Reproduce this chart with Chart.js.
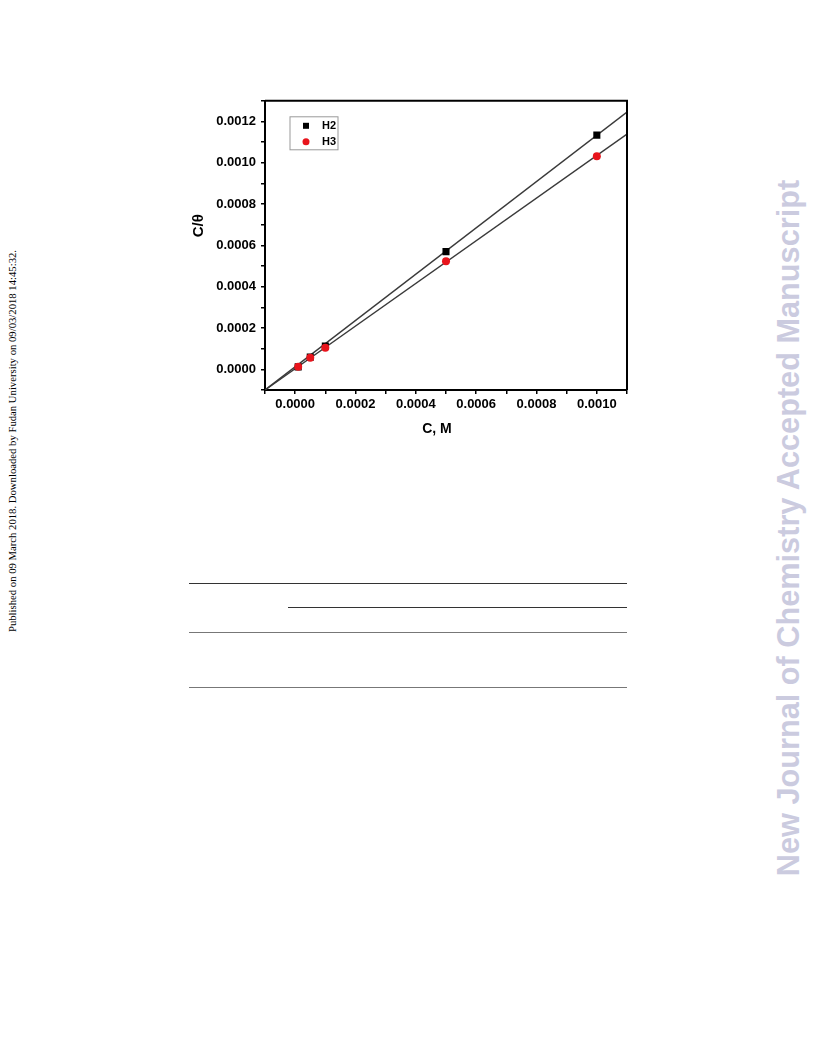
<!DOCTYPE html>
<html>
<head>
<meta charset="utf-8">
<script src="https://cdn.jsdelivr.net/npm/chart.js@4.4.1/dist/chart.umd.min.js"></script>
<style>
  body { margin: 0; background: #fff; width: 816px; height: 1056px; position: relative; overflow: hidden; }
  #wrap { position: absolute; left: 180px; top: 88px; width: 460px; height: 360px; }
  .vtext { position: absolute; white-space: nowrap; transform: translate(-50%, -50%) rotate(-90deg); }
  #pub { left: 12px; top: 441px; font-family: "Liberation Serif", serif; font-size: 10.7px; color: #000; }
  #mark { left: 789px; top: 528px; font-family: "Liberation Sans", Arial, sans-serif; font-weight: bold; font-size: 30.7px; color: #cbcbdf; }
  .rule { position: absolute; height: 0; }
</style>
</head>
<body>
<div id="pub" class="vtext">Published on 09 March 2018. Downloaded by Fudan University on 09/03/2018 14:45:32.</div>
<div id="mark" class="vtext">New Journal of Chemistry Accepted Manuscript</div>

<div class="rule" style="left:189px;top:583px;width:438px;border-top:1.3px solid #333;"></div>
<div class="rule" style="left:288px;top:607px;width:339px;border-top:1.3px solid #333;"></div>
<div class="rule" style="left:189px;top:632px;width:438px;border-top:1.3px solid #777;"></div>
<div class="rule" style="left:189px;top:687px;width:438px;border-top:1.3px solid #777;"></div>

<div id="wrap"><canvas id="grafico"></canvas></div>

<script>
// concentraciones (M)
const concentraciones = [0.00001, 0.00005, 0.0001, 0.0005, 0.001];
// C/theta
const valoresH2 = [0.000012, 0.000059, 0.000113, 0.000570, 0.001134];
const valoresH3 = [0.000012, 0.000056, 0.000105, 0.000523, 0.001032];
// rectas de ajuste (extremos del eje x)
const ajusteX = [-0.0001, 0.0011];
const ajusteH2 = [-0.0001, 0.001245];
const ajusteH3 = [-0.0001, 0.001139];
const ticksX = [0.0000, 0.0002, 0.0004, 0.0006, 0.0008, 0.0010];
const ticksY = [0.0000, 0.0002, 0.0004, 0.0006, 0.0008, 0.0010, 0.0012];
const tituloX = 'C, M';
const tituloY = 'C/θ';

const fuente = "'Liberation Sans', Arial, sans-serif";

const pares = (xs, ys) => xs.map((x, i) => ({ x: x, y: ys[i] }));

const etiqueta = (lista) => (v) => {
    const n = Math.round(v * 10000);
    const hit = lista.find(t => Math.round(t * 10000) === n);
    return hit !== undefined ? hit.toFixed(4) : '';
};

// marco superior/derecho, titulos de ejes y leyenda
const marcoLeyenda = {
    id: 'marcoLeyenda',
    afterDraw(chart) {
        const { ctx, chartArea } = chart;
        ctx.save();
        ctx.strokeStyle = '#000';
        ctx.lineWidth = 2;
        ctx.beginPath();
        ctx.moveTo(chartArea.left, chartArea.top);
        ctx.lineTo(chartArea.right, chartArea.top);
        ctx.lineTo(chartArea.right, chartArea.bottom);
        ctx.stroke();

        // titulos
        ctx.fillStyle = '#000';
        ctx.textAlign = 'center';
        ctx.textBaseline = 'middle';
        ctx.font = 'bold 14px ' + fuente;
        ctx.fillText(tituloX, chartArea.left + 172, chartArea.bottom + 39);
        ctx.save();
        ctx.translate(chartArea.left - 66, chartArea.top + 125);
        ctx.rotate(-Math.PI / 2);
        ctx.font = 'bold 15px ' + fuente;
        ctx.fillText(tituloY, 0, 0);
        ctx.restore();

        // leyenda
        const bx = chartArea.left + 25, by = chartArea.top + 16;
        ctx.lineWidth = 1;
        ctx.strokeStyle = '#999';
        ctx.strokeRect(bx, by, 48, 33);
        ctx.font = 'bold 11px ' + fuente;
        ctx.textAlign = 'left';
        ctx.fillStyle = '#000';
        ctx.fillRect(bx + 13, by + 6, 6, 6);
        ctx.fillText('H2', bx + 32, by + 9);
        ctx.fillStyle = '#e8141c';
        ctx.beginPath();
        ctx.arc(bx + 16, by + 25, 3.5, 0, Math.PI * 2);
        ctx.fill();
        ctx.fillStyle = '#000';
        ctx.fillText('H3', bx + 32, by + 25);
        ctx.restore();
    }
};

const grafico = document.getElementById('grafico').getContext('2d');

window.graficaIsoterma = new Chart(grafico, {
    type: 'scatter',
    data: {
        datasets: [
            {
                label: 'ajuste H2',
                data: pares(ajusteX, ajusteH2),
                showLine: true,
                borderColor: '#3a3a3a',
                borderWidth: 1.4,
                pointRadius: 0,
                order: 3
            },
            {
                label: 'ajuste H3',
                data: pares(ajusteX, ajusteH3),
                showLine: true,
                borderColor: '#3a3a3a',
                borderWidth: 1.4,
                pointRadius: 0,
                order: 2
            },
            {
                label: 'H2',
                data: pares(concentraciones, valoresH2),
                pointStyle: 'rect',
                pointRadius: 5,
                backgroundColor: '#000',
                borderColor: '#000',
                borderWidth: 0,
                order: 1
            },
            {
                label: 'H3',
                data: pares(concentraciones, valoresH3),
                pointStyle: 'circle',
                pointRadius: 4,
                backgroundColor: '#e8141c',
                borderColor: '#e8141c',
                borderWidth: 0,
                order: 0
            }
        ]
    },
    options: {
        responsive: true,
        maintainAspectRatio: false,
        animation: false,
        layout: { padding: { left: 7, top: 6, right: 13, bottom: 10 } },
        plugins: { legend: { display: false }, tooltip: { enabled: false } },
        scales: {
            x: {
                type: 'linear',
                min: -0.0001,
                max: 0.0011,
                afterFit: (s) => { s.height = 48; },
                border: { display: true, color: '#000', width: 2 },
                grid: { drawOnChartArea: false, drawTicks: true, tickLength: 4, color: '#000', lineWidth: 1.5 },
                ticks: {
                    stepSize: 0.0001,
                    autoSkip: false,
                    maxRotation: 0,
                    padding: 3,
                    color: '#000',
                    font: { family: fuente, size: 13, weight: 'bold' },
                    callback: etiqueta(ticksX)
                }
            },
            y: {
                type: 'linear',
                min: -0.0001,
                max: 0.0013,
                afterFit: (s) => { s.width = 78; },
                border: { display: true, color: '#000', width: 2 },
                grid: { drawOnChartArea: false, drawTicks: true, tickLength: 4, color: '#000', lineWidth: 1.5 },
                ticks: {
                    stepSize: 0.0001,
                    autoSkip: false,
                    padding: 5,
                    color: '#000',
                    font: { family: fuente, size: 13, weight: 'bold' },
                    callback: etiqueta(ticksY)
                }
            }
        }
    },
    plugins: [marcoLeyenda]
});
</script>
</body>
</html>
